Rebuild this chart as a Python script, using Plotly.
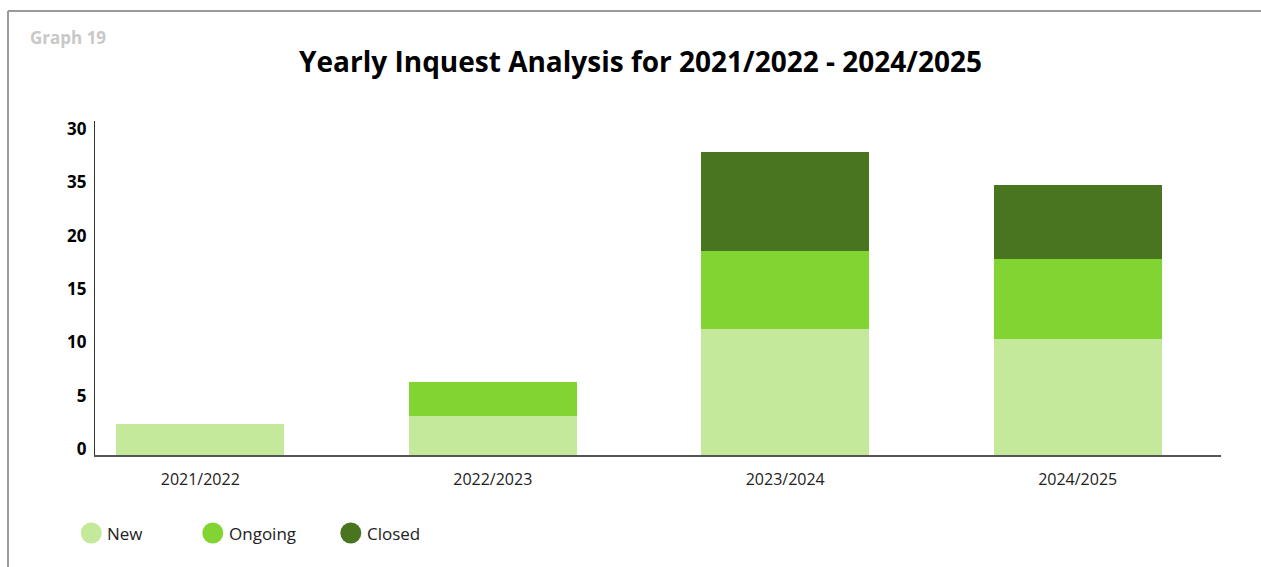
import plotly.graph_objects as go

# Data
years = ["2021/2022", "2022/2023", "2023/2024", "2024/2025"]
new_cases = [2.9, 3.7, 11.8, 10.9]
ongoing_cases = [0, 3.1, 7.3, 7.5]
closed_cases = [0, 0, 9.3, 6.9]

series_names = ["New", "Ongoing", "Closed"]
series_colors = ["#C4E99A", "#81D432", "#4A7520"]

y_tick_vals = [0, 5, 10, 15, 20, 25, 30]
y_tick_text = ["0", "5", "10", "15", "20", "35", "30"]

W, H = 1261, 567
ML, MR, MT, MB = 95, 40, 121, 112
PW, PH = W - ML - MR, H - MT - MB


def px_x(px):
    return (px - ML) / PW


def px_y(py):
    return (H - MB - py) / PH


fig = go.Figure()
for name, vals, color in zip(series_names, [new_cases, ongoing_cases, closed_cases], series_colors):
    fig.add_trace(go.Bar(
        x=years, y=vals, name=name, marker=dict(color=color, line=dict(width=0)),
        showlegend=False, hoverinfo="x+y+name",
    ))

shapes = [
    # outer frame (top and left edges)
    dict(type="line", xref="paper", yref="paper", x0=px_x(8), x1=px_x(W + 5), y0=px_y(11), y1=px_y(11),
         line=dict(color="#9a9a9a", width=2)),
    dict(type="line", xref="paper", yref="paper", x0=px_x(8), x1=px_x(8), y0=px_y(11), y1=px_y(H + 5),
         line=dict(color="#9a9a9a", width=2)),
]
annotations = [
    dict(text="<b>Graph 19</b>", xref="paper", yref="paper", x=px_x(28), y=px_y(37),
         xanchor="left", yanchor="middle", showarrow=False,
         font=dict(family="Open Sans", size=17, color="#c8c8c8")),
]

# legend: circle swatches with labels
legend_cx = [91.3, 212.8, 350.8]
legend_cy = 533
for name, color, cx in zip(series_names, series_colors, legend_cx):
    shapes.append(dict(
        type="circle", xref="paper", yref="paper", xsizemode="pixel", ysizemode="pixel",
        xanchor=px_x(cx), yanchor=px_y(legend_cy), x0=-10.5, x1=10.5, y0=-10.5, y1=10.5,
        fillcolor=color, line=dict(width=0),
    ))
    annotations.append(dict(
        text=name, xref="paper", yref="paper", x=px_x(cx + 14), y=px_y(legend_cy),
        xanchor="left", yanchor="middle", showarrow=False,
        font=dict(family="Open Sans", size=17, color="#222222"),
    ))

fig.update_layout(
    width=W, height=H,
    margin=dict(l=ML, r=MR, t=MT, b=MB, autoexpand=False),
    paper_bgcolor="white", plot_bgcolor="white",
    barmode="stack", bargap=0.426,
    title=dict(
        text="<b>Yearly Inquest Analysis for 2021/2022 - 2024/2025</b>",
        xref="container", yref="container", x=640.5 / W, y=1 - 62 / H,
        xanchor="center", yanchor="middle",
        font=dict(family="Open Sans", size=28, color="#000000"),
    ),
    xaxis=dict(
        type="category", range=[-0.36, 3.49], showgrid=False, zeroline=False,
        showline=True, linecolor="#555555", linewidth=2, ticks="",
        tickfont=dict(family="Open Sans", size=16, color="#222222"),
        ticklabelstandoff=9,
    ),
    yaxis=dict(
        range=[0, 31.3], tickmode="array", tickvals=y_tick_vals, ticktext=y_tick_text,
        showgrid=False, zeroline=False, showline=True, linecolor="#333333", linewidth=1.3,
        ticks="", tickfont=dict(family="Open Sans", size=17, color="#000000", weight="bold"),
        ticklabelshift=-6, ticklabelstandoff=4,
    ),
    shapes=shapes, annotations=annotations,
    showlegend=False,
)

fig.write_html("out.html")
